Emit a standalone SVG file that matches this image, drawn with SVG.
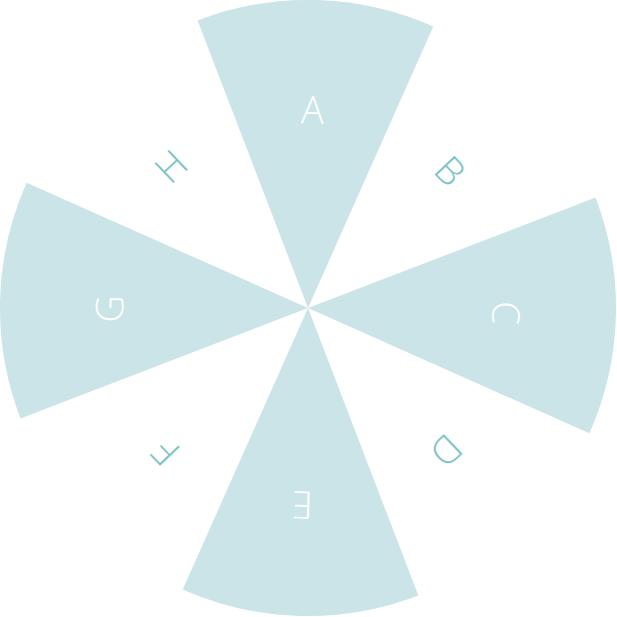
<svg xmlns="http://www.w3.org/2000/svg" width="617" height="617" viewBox="0 0 617 617">
<defs>
<style>
.sec{fill:#CAE4E7;}
.lbl{font-family:"Open Sans","Liberation Sans",sans-serif;font-weight:300;font-size:38px;text-anchor:middle;}
.on{fill:#FFFFFF;}
.off{fill:#7CC3C6;}
</style>
<path id="sector" d="M308,308 L190.13,23.44 A308,308 0 0 1 425.87,23.44 Z"/>
</defs>
<rect width="617" height="617" fill="#FFFFFF"/>
<g id="A"><use href="#sector" class="sec" transform="rotate(1.5 308 308)"/><text class="lbl on" x="0" y="13.5" transform="translate(312.5 110) rotate(1.5)">A</text></g>
<g id="B"><text class="lbl off" x="0" y="13.5" transform="translate(450 171) rotate(46.5)">B</text></g>
<g id="C"><use href="#sector" class="sec" transform="rotate(91.5 308 308)"/><text class="lbl on" x="0" y="13.5" transform="translate(506 313) rotate(91.5)">C</text></g>
<g id="D"><text class="lbl off" x="0" y="13.5" transform="translate(446 450.5) rotate(136.5)">D</text></g>
<g id="E"><use href="#sector" class="sec" transform="rotate(181.5 308 308)"/><text class="lbl on" x="0" y="13.5" transform="translate(302.5 505) rotate(181.5)">E</text></g>
<g id="F"><text class="lbl off" x="0" y="13.5" transform="translate(166 452) rotate(226.5)">F</text></g>
<g id="G"><use href="#sector" class="sec" transform="rotate(271.5 308 308)"/><text class="lbl on" x="0" y="13.5" transform="translate(109.5 309) rotate(271.5)">G</text></g>
<g id="H"><text class="lbl off" x="0" y="13.5" transform="translate(171 166.5) rotate(316.5)">H</text></g>
<g id="connectors"></g>
</svg>
